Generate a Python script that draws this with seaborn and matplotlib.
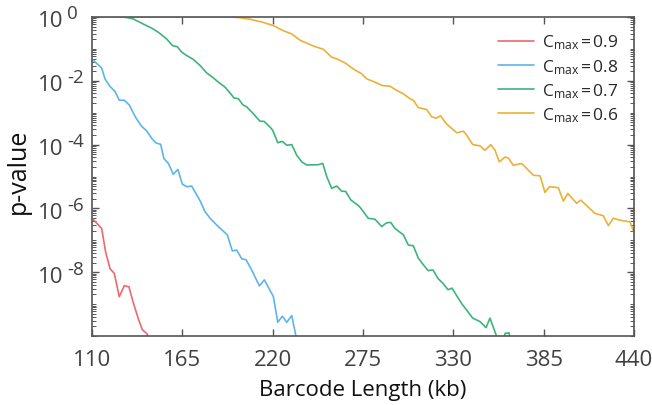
import numpy as np
import pandas as pd
import matplotlib
matplotlib.use("Agg")
import matplotlib.pyplot as plt
import matplotlib.transforms as mtransforms
import seaborn as sns
from matplotlib.ticker import FixedLocator, LogLocator, NullFormatter

# ---- data (y stored as log10 of p-value) ----
red_x = [110, 111, 115.9, 118.3, 121.0, 123.6, 126.6, 129.7, 132.5, 135.1, 138.2, 140.6, 143.7, 146.5]
red_log10p = [-6.30, -6.36, -6.63, -7.37, -7.89, -8.04, -8.77, -8.42, -8.46, -8.95, -9.46, -9.80, -9.94, -10.5]

blue_x = [110, 110.8, 115.9, 117.9, 121.0, 124.0, 126.6, 129.7, 132.7, 136.8, 140.3, 143.3,
          146.4, 149.0, 151.8, 153.8, 156.5, 159.5, 162.3, 165.0, 167.7, 170.7, 175.8, 178.8,
          181.9, 186.9, 192.4, 195.4, 198.1, 201.2, 203.8, 207.2, 211.9, 214.9, 220.4, 223.1,
          225.9, 228.6, 231.6, 234.0, 235.5]
blue_log10p = [-1.33, -1.36, -1.60, -1.94, -2.18, -2.33, -2.61, -2.61, -2.76, -3.17, -3.43, -3.57,
               -3.81, -3.95, -3.99, -4.44, -4.59, -4.93, -4.78, -5.24, -5.32, -5.30, -5.76, -6.10,
               -6.31, -6.57, -6.83, -7.33, -7.31, -7.58, -7.61, -7.93, -8.43, -8.24, -8.76, -9.57,
               -9.38, -9.57, -9.36, -9.96, -10.5]

green_x = [110, 128.1, 131.5, 135.1, 141.2, 146.4, 150.4, 155.5, 159.1, 161.9, 164.6, 167.7, 171.7,
           175.8, 179.8, 183.9, 186.9, 191.0, 194.0, 196.5, 199.1, 201.8, 204.2, 208.2, 212.3,
           214.7, 218.4, 220.0, 223.1, 225.9, 228.6, 231.6, 234.6, 237.7, 240.7, 247.8, 250.5,
           252.9, 255.9, 259.0, 262.0, 264.5, 267.5, 272.6, 275.2, 278.2, 282.3, 286.4, 289.4,
           291.9, 294.5, 299.6, 302.6, 305.6, 308.7, 311.5, 314.6, 317.6, 320.7, 323.7, 326.8,
           329.2, 332.2, 335.3, 338.3, 341.8, 346.3, 349.9, 352.3, 356.0, 358.4, 361.5, 363.9, 365.7]
green_log10p = [0.0, 0.0, -0.02, -0.06, -0.22, -0.35, -0.48, -0.69, -0.90, -0.93, -1.10, -1.21, -1.33,
                -1.52, -1.75, -1.91, -2.04, -2.20, -2.38, -2.54, -2.56, -2.75, -2.82, -3.03, -3.27,
                -3.27, -3.45, -3.55, -3.94, -3.90, -4.02, -4.00, -4.33, -4.54, -4.64, -4.63, -4.59,
                -5.00, -5.37, -5.30, -5.46, -5.47, -5.73, -5.93, -6.10, -6.31, -6.34, -6.57, -6.45,
                -6.44, -6.63, -6.83, -7.15, -7.17, -7.56, -7.75, -7.95, -7.93, -8.20, -8.35, -8.55,
                -8.50, -8.75, -9.00, -9.20, -9.44, -9.55, -9.74, -9.44, -9.96, -10.5, -9.92, -9.90, -10.5]

yellow_x = [110, 194.0, 200.0, 206.2, 214.3, 220.4, 226.5, 231.6, 236.7, 245.8, 250.8, 255.9, 259.0,
            264.1, 269.1, 274.2, 277.3, 281.3, 286.8, 291.5, 295.5, 299.6, 303.6, 305.6, 308.7,
            313.8, 316.8, 319.5, 322.3, 325.6, 332.1, 336.1, 338.2, 341.8, 346.3, 349.3, 352.8,
            355.4, 358.0, 361.5, 363.5, 366.5, 371.6, 378.7, 382.8, 385.8, 388.5, 393.9, 397.0,
            399.7, 405.1, 407.6, 416.3, 421.3, 424.4, 427.4, 431.5, 437.6, 440.0]
yellow_log10p = [0.0, 0.0, -0.02, -0.07, -0.17, -0.27, -0.43, -0.53, -0.73, -0.93, -1.01, -1.26, -1.31,
                 -1.44, -1.63, -1.78, -1.94, -2.02, -2.15, -2.17, -2.30, -2.41, -2.56, -2.61, -2.84,
                 -2.90, -3.13, -3.17, -3.10, -3.34, -3.63, -3.58, -3.71, -4.00, -4.04, -4.18, -4.00,
                 -4.18, -4.54, -4.39, -4.42, -4.65, -4.59, -4.96, -4.98, -5.50, -5.32, -5.35, -5.77,
                 -5.53, -5.84, -5.74, -6.16, -6.23, -6.54, -6.31, -6.37, -6.42, -6.75]

series_labels = [r"C$_{\mathrm{max}}\,$=$\,$0.9", r"C$_{\mathrm{max}}\,$=$\,$0.8",
                 r"C$_{\mathrm{max}}\,$=$\,$0.7", r"C$_{\mathrm{max}}\,$=$\,$0.6"]
series_colors = ["#EB6A6E", "#5DB4EC", "#3DB47B", "#EBB035"]

x_ticks = [110, 165, 220, 275, 330, 385, 440]
y_tick_exps = [0, -2, -4, -6, -8]

# ---- build long table ----
frames = []
for lab, xs, ys in zip(series_labels,
                       [red_x, blue_x, green_x, yellow_x],
                       [red_log10p, blue_log10p, green_log10p, yellow_log10p]):
    frames.append(pd.DataFrame({"length": xs, "p": np.power(10.0, ys), "series": lab}))
df = pd.concat(frames, ignore_index=True)

sns.set_style("ticks")
plt.rcParams["font.family"] = ["Open Sans", "DejaVu Sans"]
plt.rcParams["mathtext.fontset"] = "custom"
plt.rcParams["mathtext.rm"] = "Open Sans"
plt.rcParams["mathtext.it"] = "Open Sans:italic"

fig = plt.figure(figsize=(6.52, 4.06), dpi=100)
ax = fig.add_axes([92/652, 1-337/406, (634-92)/652, (337-18)/406])

sns.lineplot(data=df, x="length", y="p", hue="series", hue_order=series_labels,
             palette=dict(zip(series_labels, series_colors)), linewidth=1.2,
             sort=False, estimator=None, ax=ax)

ax.set_yscale("log")
ax.set_xlim(110, 440)
ax.set_ylim(1e-10, 1)

ax.xaxis.set_major_locator(FixedLocator(x_ticks))
ax.set_xticklabels([str(t) for t in x_ticks])
ax.yaxis.set_major_locator(FixedLocator([10.0**e for e in y_tick_exps]))
ax.set_yticklabels([])
ax.yaxis.set_minor_locator(LogLocator(base=10, subs=np.arange(1, 10), numticks=30))
ax.yaxis.set_minor_formatter(NullFormatter())

spine_col = "#555555"
for s in ax.spines.values():
    s.set_visible(True)
    s.set_color(spine_col)
    s.set_linewidth(1.2)
ax.tick_params(which="both", direction="in", top=True, right=True, color=spine_col)
ax.tick_params(which="major", length=5, width=1.0, labelsize=16, labelcolor="#404040", pad=9)
ax.tick_params(which="minor", length=3, width=0.7)

# y tick labels "10" with large raised exponent (as in reference)
ytrans = ax.get_yaxis_transform()
for e in y_tick_exps:
    t_base = mtransforms.offset_copy(ytrans, fig=fig, x=38-92, y=-4.0, units="dots")
    ax.text(0, 10.0**e, "10", transform=t_base, ha="left", va="center",
            fontsize=16, color="#404040", clip_on=False)
    t_exp = mtransforms.offset_copy(ytrans, fig=fig, x=67-92, y=3.5, units="dots")
    ax.text(0, 10.0**e, str(e), transform=t_exp, ha="left", va="center",
            fontsize=13.5, color="#404040", clip_on=False)

ax.set_xlabel("Barcode Length (kb)", fontsize=16, color="#111111", labelpad=7)
ax.set_ylabel("p-value", fontsize=18, color="#111111")
ax.yaxis.label.set_va("center")
ax.yaxis.set_label_coords((18-92)/542, (337-171)/319)

leg = ax.legend(loc="upper right", frameon=False, fontsize=12.5, handlelength=2.1,
                labelspacing=0.32, handletextpad=0.45, borderaxespad=0.5)
for line in leg.get_lines():
    line.set_linewidth(1.2)

fig.savefig("out.png", dpi=100)
